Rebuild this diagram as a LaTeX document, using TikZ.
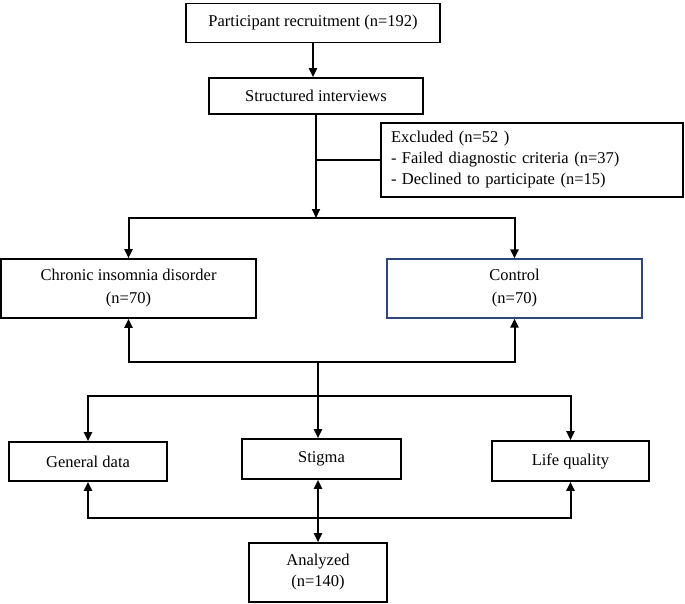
\documentclass[tikz,border=0pt]{standalone}
\usepackage{fontspec}
\setmainfont{Liberation Serif}
\usetikzlibrary{arrows.meta, positioning}
\definecolor{ctrlblue}{RGB}{47,70,122}

\begin{document}
\begin{tikzpicture}[
    x=1pt, y=-1pt,
    box/.style={draw, rectangle, line width=1.6pt, align=center, inner sep=2pt, font=\fontsize{16.5}{23}\selectfont},
    arrow/.style={-{Triangle[length=9pt, width=8pt]}, line width=2pt},
    plain/.style={line width=2pt}
]
    \useasboundingbox (0,0) rectangle (685,603);

    % Recruitment
    \node[box, minimum width=254pt, minimum height=39pt] (recruit) at (313,23) {Participant recruitment (n=192)};

    % Interviews
    \node[box, minimum width=214pt, minimum height=36pt] (interview) at (316,96) {Structured interviews};

    % Excluded
    \node[box, align=left, text width=282pt, inner xsep=10pt, minimum height=74pt, font=\fontsize{16.5}{21}\selectfont] (excl) at (532,160) {Excluded (n=52 )\\- Failed diagnostic criteria (n=37)\\- Declined to participate (n=15)};

    % Groups
    \node[box, minimum width=255pt, minimum height=59pt] (chronic) at (128.5,288.5) {Chronic insomnia disorder\\(n=70)};
    \node[box, draw=ctrlblue, line width=1.2pt, minimum width=255pt, minimum height=59pt] (control) at (514.5,288.5) {Control\\(n=70)};

    % Measures
    \node[box, minimum width=158pt, minimum height=39pt] (general) at (88,461.5) {General data};
    \node[box, minimum width=159pt, minimum height=40pt] (stigma) at (321.5,459) {Stigma};
    \node[box, minimum width=157pt, minimum height=40pt] (life) at (570.5,461) {Life quality};

    % Analyzed
    \node[box, minimum width=138pt, minimum height=59pt, font=\fontsize{16.5}{21}\selectfont] (analyzed) at (318,572.5) {Analyzed\\(n=140)};

    % Junctions
    \coordinate (split1) at (316,218);
    \coordinate (join1) at (318,362);
    \coordinate (split2) at (318,396);
    \coordinate (join2) at (318,518);

    % Arrows
    \draw[arrow] (recruit.south) -- (recruit.south |- interview.north);
    \draw[arrow] (interview.south) -- (split1);
    \draw[plain] (excl.west) -- (excl.west -| split1);
    \draw[arrow] (split1) -| (chronic.north);
    \draw[arrow] (split1) -| (control.north);

    \draw[arrow] (join1) -| (chronic.south);
    \draw[arrow] (join1) -| (control.south);
    \draw[arrow] (join1) -- (join1 |- stigma.north);
    \draw[arrow] (split2) -| (general.north);
    \draw[arrow] (split2) -| (life.north);

    \draw[arrow] (join2) -| (general.south);
    \draw[arrow] (join2) -| (life.south);
    \draw[arrow] (join2) -- (join2 |- stigma.south);
    \draw[arrow] (join2) -- (analyzed.north);

\end{tikzpicture}
\end{document}
